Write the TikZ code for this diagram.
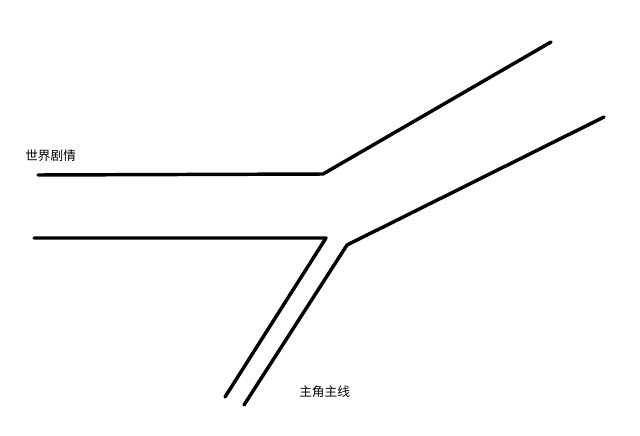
\documentclass[tikz,border=0pt]{standalone}
\usepackage{fontspec}
\newfontfamily\cjk{Noto Sans CJK SC}
\usepackage{tikz}

\begin{document}
\begin{tikzpicture}[x=0.75pt, y=-0.75pt, every node/.style={font=\cjk\fontsize{9.5pt}{11pt}\selectfont, inner sep=0pt}, strada/.style={line width=2.6pt, line cap=round, line join=round}]

\useasboundingbox (0,0) rectangle (640,436);

% Posizioni dei punti
\coordinate (a1) at (38,175);
\coordinate (a2) at (323,174);
\coordinate (a3) at (551,42);
\coordinate (b1) at (34,238);
\coordinate (b2) at (326,238);
\coordinate (b3) at (225,397);
\coordinate (c1) at (244,405);
\coordinate (c2) at (347,245);
\coordinate (c3) at (604,117);

% Etichette
\node[anchor=west] (mondo) at (25,156) {世界剧情};
\node[anchor=west] (protagonista) at (299,392) {主角主线};

% Linee
\draw[strada] (a1) -- (a2) -- (a3);
\draw[strada] (b1) -- (b2) -- (b3);
\draw[strada] (c1) -- (c2) -- (c3);
\end{tikzpicture}
\end{document}
